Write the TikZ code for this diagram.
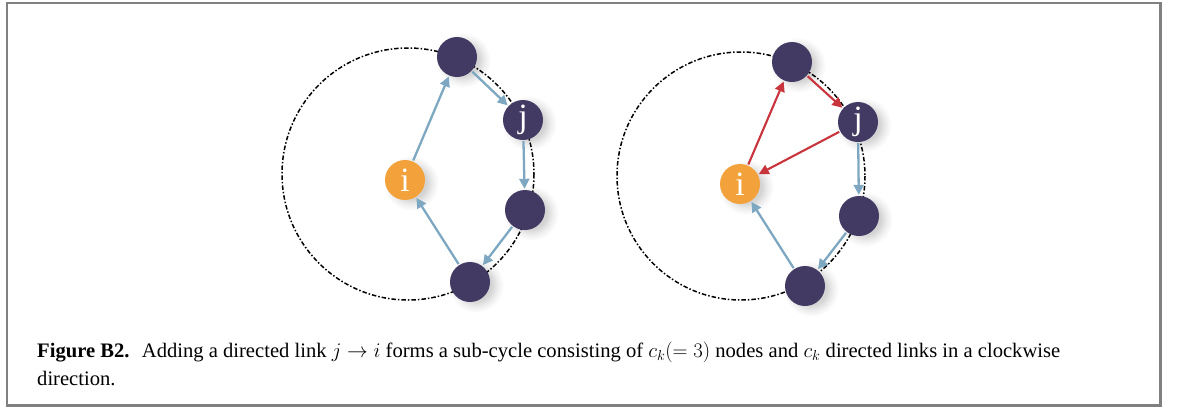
\documentclass[tikz,border=0pt]{standalone}
\usepackage{fontspec}
\setmainfont{Liberation Serif}
\usetikzlibrary{arrows.meta}
\definecolor{navy}{HTML}{433A63}
\definecolor{orng}{HTML}{F3A23B}
\definecolor{lblue}{HTML}{7EA8C2}
\definecolor{lred}{HTML}{C9343C}
\definecolor{framegray}{HTML}{808080}
\pgfdeclareradialshading{softshadow}{\pgfpoint{0bp}{0bp}}{color(0bp)=(black!20); color(13bp)=(black!17); color(18bp)=(black!7); color(23bp)=(white); color(50bp)=(white)}
\tikzset{
  x=1pt,y=-1pt,
  vtx/.style={circle,minimum size=40pt,inner sep=0pt,text=white,
    font=\fontsize{34}{34}\selectfont},
  dk/.style={vtx,fill=navy},
  org/.style={vtx,fill=orng},
  shd/.style={shading=softshadow},
  ring/.style={draw=black,line width=1.5pt,dash pattern=on 4.5pt off 2pt on 1.5pt off 2pt},
  bluarr/.style={draw=lblue,line width=2.3pt,-{Triangle[length=10pt,width=10pt]},shorten <=1pt,shorten >=1pt},
  redarr/.style={draw=lred,line width=2.1pt,-{Triangle[length=10pt,width=10pt]},shorten <=1pt,shorten >=1pt},
  captxt/.style={anchor=base west,inner sep=0pt,font=\fontsize{20.6}{24}\selectfont}
}
\begin{document}
\begin{tikzpicture}
\useasboundingbox (0,0) rectangle (1179,410);
% frame
\fill[framegray] (6,2) rectangle (1162,407);
\fill[white] (8,3.5) rectangle (1159,403.5);
% shadows
\foreach \p in {(457,57),(523,120),(405,180),(525,210),(470,282),(792,62),(858,122),(740,184),(859,216),(805,286)}{
  \shade[shd] \p ++(6,3) circle[radius=30];
}
% left diagram
\draw[ring] (408,174) circle[radius=126];
\node[dk] (La) at (457,57) {};
\node[dk] (Lj) at (523,120) {j};
\node[org] (Li) at (405,180) {i};
\node[dk] (Lc) at (525,210) {};
\node[dk] (Ld) at (470,282) {};
\draw[bluarr] (Li) -- (La);
\draw[bluarr] (La) -- (Lj);
\draw[bluarr] (Lj) -- (Lc);
\draw[bluarr] (Lc) -- (Ld);
\draw[bluarr] (Ld) -- (Li);
% right diagram
\draw[ring] (741,176) circle[radius=124];
\node[dk] (Ra) at (792,62) {};
\node[dk] (Rj) at (858,122) {j};
\node[org] (Ri) at (740,184) {i};
\node[dk] (Rc) at (859,216) {};
\node[dk] (Rd) at (805,286) {};
\draw[redarr] (Ri) -- (Ra);
\draw[redarr] (Ra) -- (Rj);
\draw[redarr] (Rj) -- (Ri);
\draw[bluarr] (Rj) -- (Rc);
\draw[bluarr] (Rc) -- (Rd);
\draw[bluarr] (Rd) -- (Ri);
% caption
\node[captxt] (c1) at (37,357) {\textbf{Figure B2.}\hspace{0.6em}Adding a directed link $j\rightarrow i$ forms a sub-cycle consisting of $c_k(=3)$ nodes and $c_k$ directed links in a clockwise};
\node[captxt] (c2) at (37,385) {direction.};
\end{tikzpicture}
\end{document}
